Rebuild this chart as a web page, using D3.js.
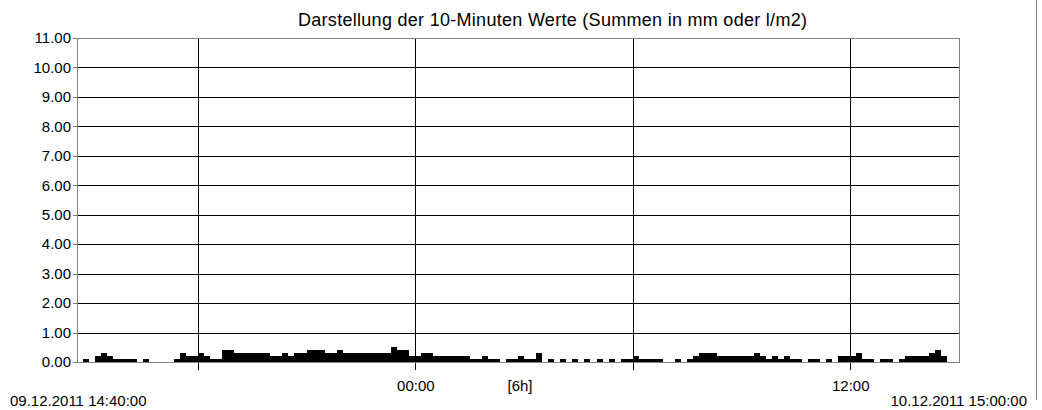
<!DOCTYPE html>
<html lang="de">
<head>
<meta charset="UTF-8">
<title>10-Minuten Werte</title>
<script src="https://cdn.jsdelivr.net/npm/d3@7"></script>
<style>
body { margin: 0; background: #fff; }
svg text { font-family: "Liberation Sans", Arial, sans-serif; fill: #000; }
</style>
</head>
<body>
<script>
// Zeitraum und Werte (10-Minuten Summen, mm)
const startLabel = '09.12.2011 14:40:00';
const endLabel = '10.12.2011 15:00:00';
const gridTimes = ['09.12.2011 18:00:00', '10.12.2011 00:00:00', '10.12.2011 06:00:00', '10.12.2011 12:00:00'];
const gridLabels = ['', '00:00', '', '12:00'];
const yTicks = [0, 1, 2, 3, 4, 5, 6, 7, 8, 9, 10, 11];
const rain = [
  0, 0.1, 0, 0.2, 0.3, 0.2, 0.1, 0.1, 0.1, 0.1,
  0, 0.1, 0, 0, 0, 0, 0.1, 0.3, 0.2, 0.2,
  0.3, 0.2, 0.1, 0.1, 0.4, 0.4, 0.3, 0.3, 0.3, 0.3,
  0.3, 0.3, 0.2, 0.2, 0.3, 0.2, 0.3, 0.3, 0.4, 0.4,
  0.4, 0.3, 0.3, 0.4, 0.3, 0.3, 0.3, 0.3, 0.3, 0.3,
  0.3, 0.3, 0.5, 0.4, 0.4, 0.2, 0.2, 0.3, 0.3, 0.2,
  0.2, 0.2, 0.2, 0.2, 0.2, 0.1, 0.1, 0.2, 0.1, 0.1,
  0, 0.1, 0.1, 0.2, 0.1, 0.1, 0.3, 0, 0.1, 0,
  0.1, 0, 0.1, 0, 0.1, 0, 0.1, 0, 0.1, 0,
  0.1, 0.1, 0.2, 0.1, 0.1, 0.1, 0.1, 0, 0, 0.1,
  0, 0.1, 0.2, 0.3, 0.3, 0.3, 0.2, 0.2, 0.2, 0.2,
  0.2, 0.2, 0.3, 0.2, 0.1, 0.2, 0.1, 0.2, 0.1, 0.1,
  0, 0.1, 0.1, 0, 0.1, 0, 0.2, 0.2, 0.2, 0.3,
  0.1, 0.1, 0, 0.1, 0.1, 0, 0.1, 0.2, 0.2, 0.2,
  0.2, 0.3, 0.4, 0.2, 0, 0
];

let width = 1042;
let height = 410;
let plotL = 77, plotR = 959, plotT = 38, plotB = 362;

let parse = d3.timeParse('%d.%m.%Y %H:%M:%S');
let t0 = parse(startLabel);
let t1 = parse(endLabel);

let x = d3.scaleTime().domain([t0, t1]).range([plotL, plotR]);
let y = d3.scaleLinear().domain([0, 11]).range([plotB, plotT]);

let svg = d3.select('body').append('svg')
  .attr('width', width)
  .attr('height', height)
  .style('display', 'block');

// Titel
svg.append('text')
  .attr('x', 298)
  .attr('y', 26)
  .attr('textLength', 509)
  .attr('lengthAdjust', 'spacing')
  .style('font-size', '18px')
  .text('Darstellung der 10-Minuten Werte (Summen in mm oder l/m2)');

// horizontale Gitterlinien
svg.append('g')
  .attr('transform', 'translate(' + plotL + ',0)')
  .call(d3.axisLeft(y).tickValues(yTicks).tickSize(-(plotR - plotL)).tickFormat(''))
  .call(g => g.select('.domain').remove())
  .call(g => g.selectAll('line').attr('stroke', '#000').attr('shape-rendering', 'crispEdges'));

// y Beschriftung
svg.append('g')
  .attr('transform', 'translate(' + plotL + ',0)')
  .call(d3.axisLeft(y).tickValues(yTicks).tickSize(4).tickPadding(2).tickFormat(d3.format('.2f')))
  .call(g => g.select('.domain').remove())
  .call(g => g.selectAll('line').attr('stroke', '#808080').attr('shape-rendering', 'crispEdges'))
  .call(g => g.selectAll('text').style('font-size', '15px'));

// vertikale Gitterlinien mit Beschriftung
let xAxisY = 370;
svg.append('g')
  .attr('transform', 'translate(0,' + xAxisY + ')')
  .call(d3.axisBottom(x)
    .tickValues(gridTimes.map(parse))
    .tickSize(-(xAxisY - plotT))
    .tickPadding(10)
    .tickFormat((d, i) => gridLabels[i]))
  .call(g => g.select('.domain').remove())
  .call(g => g.selectAll('line').attr('stroke', '#000').attr('shape-rendering', 'crispEdges'))
  .call(g => g.selectAll('text').style('font-size', '15px'));

// Balken
let step = 10 * 60 * 1000;
svg.append('g')
  .selectAll('rect')
  .data(rain)
  .join('rect')
  .attr('x', (d, i) => x(new Date(+t0 + i * step)))
  .attr('width', (d, i) => x(new Date(+t0 + (i + 1) * step)) - x(new Date(+t0 + i * step)))
  .attr('y', d => y(d))
  .attr('height', d => y(0) - y(d))
  .attr('fill', '#000')
  .attr('shape-rendering', 'crispEdges');

// Rahmen
svg.append('rect')
  .attr('x', plotL)
  .attr('y', plotT)
  .attr('width', plotR - plotL)
  .attr('height', plotB - plotT)
  .attr('fill', 'none')
  .attr('stroke', '#808080')
  .attr('shape-rendering', 'crispEdges');

// Zeitbeschriftung unten
svg.append('text')
  .attr('x', 10).attr('y', 406)
  .style('font-size', '15px')
  .text(startLabel);
svg.append('text')
  .attr('x', 1027).attr('y', 406)
  .attr('text-anchor', 'end')
  .style('font-size', '15px')
  .text(endLabel);
svg.append('text')
  .attr('x', 520).attr('y', 391)
  .attr('text-anchor', 'middle')
  .style('font-size', '15px')
  .text('[6h]');

// rechte Randlinie
svg.append('line')
  .attr('x1', 1036.5).attr('x2', 1036.5)
  .attr('y1', 0).attr('y2', 400)
  .attr('stroke', '#808080');
</script>
</body>
</html>
